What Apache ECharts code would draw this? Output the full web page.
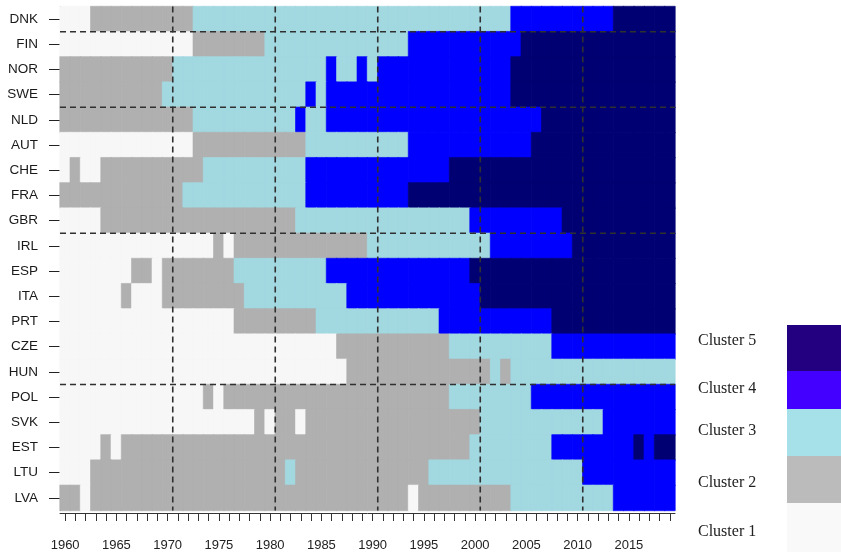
<!DOCTYPE html>
<html><head><meta charset="utf-8">
<script src="https://cdn.jsdelivr.net/npm/echarts@6/dist/echarts.min.js"></script>
<style>html,body{margin:0;padding:0;background:#fff}#c{width:841px;height:552px}</style>
</head><body><div id="c"></div>
<script>
// ---- categories ----
const years = [1960,1961,1962,1963,1964,1965,1966,1967,1968,1969,
  1970,1971,1972,1973,1974,1975,1976,1977,1978,1979,
  1980,1981,1982,1983,1984,1985,1986,1987,1988,1989,
  1990,1991,1992,1993,1994,1995,1996,1997,1998,1999,
  2000,2001,2002,2003,2004,2005,2006,2007,2008,2009,
  2010,2011,2012,2013,2014,2015,2016,2017,2018,2019];
const countries = ['DNK','FIN','NOR','SWE','NLD','AUT','CHE','FRA','GBR','IRL',
  'ESP','ITA','PRT','CZE','HUN','POL','SVK','EST','LTU','LVA'];
const yearTickLabels = [1960,1965,1970,1975,1980,1985,1990,1995,2000,2005,2010,2015];

// ---- cluster membership per country, 1960..2019 ----
const DNK = [1,1,1,2,2,2,2,2,2,2, 2,2,2,3,3,3,3,3,3,3, 3,3,3,3,3,3,3,3,3,3, 3,3,3,3,3,3,3,3,3,3, 3,3,3,3,4,4,4,4,4,4, 4,4,4,4,5,5,5,5,5,5];
const FIN = [1,1,1,1,1,1,1,1,1,1, 1,1,1,2,2,2,2,2,2,2, 3,3,3,3,3,3,3,3,3,3, 3,3,3,3,4,4,4,4,4,4, 4,4,4,4,4,5,5,5,5,5, 5,5,5,5,5,5,5,5,5,5];
const NOR = [2,2,2,2,2,2,2,2,2,2, 2,3,3,3,3,3,3,3,3,3, 3,3,3,3,3,3,4,3,3,4, 3,4,4,4,4,4,4,4,4,4, 4,4,4,4,5,5,5,5,5,5, 5,5,5,5,5,5,5,5,5,5];
const SWE = [2,2,2,2,2,2,2,2,2,2, 3,3,3,3,3,3,3,3,3,3, 3,3,3,3,4,3,4,4,4,4, 4,4,4,4,4,4,4,4,4,4, 4,4,4,4,5,5,5,5,5,5, 5,5,5,5,5,5,5,5,5,5];
const NLD = [2,2,2,2,2,2,2,2,2,2, 2,2,2,3,3,3,3,3,3,3, 3,3,3,4,3,3,4,4,4,4, 4,4,4,4,4,4,4,4,4,4, 4,4,4,4,4,4,4,5,5,5, 5,5,5,5,5,5,5,5,5,5];
const AUT = [1,1,1,1,1,1,1,1,1,1, 1,1,1,2,2,2,2,2,2,2, 2,2,2,2,3,3,3,3,3,3, 3,3,3,3,4,4,4,4,4,4, 4,4,4,4,4,4,5,5,5,5, 5,5,5,5,5,5,5,5,5,5];
const CHE = [1,2,1,1,2,2,2,2,2,2, 2,2,2,2,3,3,3,3,3,3, 3,3,3,3,4,4,4,4,4,4, 4,4,4,4,4,4,4,4,5,5, 5,5,5,5,5,5,5,5,5,5, 5,5,5,5,5,5,5,5,5,5];
const FRA = [2,2,2,2,2,2,2,2,2,2, 2,2,3,3,3,3,3,3,3,3, 3,3,3,3,4,4,4,4,4,4, 4,4,4,4,5,5,5,5,5,5, 5,5,5,5,5,5,5,5,5,5, 5,5,5,5,5,5,5,5,5,5];
const GBR = [1,1,1,1,2,2,2,2,2,2, 2,2,2,2,2,2,2,2,2,2, 2,2,2,3,3,3,3,3,3,3, 3,3,3,3,3,3,3,3,3,3, 4,4,4,4,4,4,4,4,4,5, 5,5,5,5,5,5,5,5,5,5];
const IRL = [1,1,1,1,1,1,1,1,1,1, 1,1,1,1,1,2,1,2,2,2, 2,2,2,2,2,2,2,2,2,2, 3,3,3,3,3,3,3,3,3,3, 3,3,4,4,4,4,4,4,4,4, 5,5,5,5,5,5,5,5,5,5];
const ESP = [1,1,1,1,1,1,1,2,2,1, 2,2,2,2,2,2,2,3,3,3, 3,3,3,3,3,3,4,4,4,4, 4,4,4,4,4,4,4,4,4,4, 5,5,5,5,5,5,5,5,5,5, 5,5,5,5,5,5,5,5,5,5];
const ITA = [1,1,1,1,1,1,2,1,1,1, 2,2,2,2,2,2,2,2,3,3, 3,3,3,3,3,3,3,3,4,4, 4,4,4,4,4,4,4,4,4,4, 4,5,5,5,5,5,5,5,5,5, 5,5,5,5,5,5,5,5,5,5];
const PRT = [1,1,1,1,1,1,1,1,1,1, 1,1,1,1,1,1,1,2,2,2, 2,2,2,2,2,3,3,3,3,3, 3,3,3,3,3,3,3,4,4,4, 4,4,4,4,4,4,4,4,5,5, 5,5,5,5,5,5,5,5,5,5];
const CZE = [1,1,1,1,1,1,1,1,1,1, 1,1,1,1,1,1,1,1,1,1, 1,1,1,1,1,1,1,2,2,2, 2,2,2,2,2,2,2,2,3,3, 3,3,3,3,3,3,3,3,4,4, 4,4,4,4,4,4,4,4,4,4];
const HUN = [1,1,1,1,1,1,1,1,1,1, 1,1,1,1,1,1,1,1,1,1, 1,1,1,1,1,1,1,1,2,2, 2,2,2,2,2,2,2,2,2,2, 2,2,3,2,3,3,3,3,3,3, 3,3,3,3,3,3,3,3,3,3];
const POL = [1,1,1,1,1,1,1,1,1,1, 1,1,1,1,2,1,2,2,2,2, 2,2,2,2,2,2,2,2,2,2, 2,2,2,2,2,2,2,2,3,3, 3,3,3,3,3,3,4,4,4,4, 4,4,4,4,4,4,4,4,4,4];
const SVK = [1,1,1,1,1,1,1,1,1,1, 1,1,1,1,1,1,1,1,1,2, 1,2,2,1,2,2,2,2,2,2, 2,2,2,2,2,2,2,2,2,2, 2,3,3,3,3,3,3,3,3,3, 3,3,3,4,4,4,4,4,4,4];
const EST = [1,1,1,1,2,1,2,2,2,2, 2,2,2,2,2,2,2,2,2,2, 2,2,2,2,2,2,2,2,2,2, 2,2,2,2,2,2,2,2,2,2, 3,3,3,3,3,3,3,3,4,4, 4,4,4,4,4,4,5,4,5,5];
const LTU = [1,1,1,2,2,2,2,2,2,2, 2,2,2,2,2,2,2,2,2,2, 2,2,3,2,2,2,2,2,2,2, 2,2,2,2,2,2,3,3,3,3, 3,3,3,3,3,3,3,3,3,3, 3,4,4,4,4,4,4,4,4,4];
const LVA = [2,2,1,2,2,2,2,2,2,2, 2,2,2,2,2,2,2,2,2,2, 2,2,2,2,2,2,2,2,2,2, 2,2,2,2,1,2,2,2,2,2, 2,2,2,2,3,3,3,3,3,3, 3,3,3,3,4,4,4,4,4,4];

// dashed separators: after these years, below these countries
const decadeBreaks = [1970,1980,1990,2000,2010];
const groupBreaks = ['DNK','SWE','GBR','HUN'];

// legend
const legendLabels = ['Cluster 5','Cluster 4','Cluster 3','Cluster 2','Cluster 1'];

// ---- styles ----
const cellColors = {1:'#f7f7f7',2:'#b0b0b0',3:'#a2d8e0',4:'#0000ff',5:'#000072'};
const legendColors = ['#22007f','#4400ff','#a6e1e9','#bbbbbb','#f9f9f9'];
const legendBoxY = [325,371,409,456,503,552];
const legendTextY = [341,389,431,483,532];

const rows = {DNK,FIN,NOR,SWE,NLD,AUT,CHE,FRA,GBR,IRL,ESP,ITA,PRT,CZE,HUN,POL,SVK,EST,LTU,LVA};
const heatData = [];
countries.forEach((c, yi) => {
  rows[c].forEach((v, xi) => {
    heatData.push({value:[xi, yi, v], itemStyle:{color:cellColors[v], borderColor:cellColors[v], borderWidth:0.6}});
  });
});

const dashStyle = {stroke:'#303030', lineWidth:1.6, lineDash:[6,4]};
const font = 'Liberation Sans';

const graphic = [];
legendLabels.forEach((t,i)=>{
  graphic.push({type:'rect', shape:{x:787, y:legendBoxY[i], width:60, height:legendBoxY[i+1]-legendBoxY[i]}, style:{fill:legendColors[i]}, silent:true});
  graphic.push({type:'text', x:698, y:legendTextY[i], style:{text:t, fontFamily:'Liberation Serif', fontSize:16, fill:'#222', verticalAlign:'middle', align:'left'}, silent:true});
});

const chart = echarts.init(document.getElementById('c'), null, {renderer:'canvas'});
chart.setOption({
  animation:false,
  backgroundColor:'#fff',
  grid:{left:60, top:6.5, width:615, height:504},
  xAxis:{type:'category', data:years, offset:2.5,
    axisLine:{show:true, lineStyle:{color:'#333', width:1}},
    axisTick:{show:true, interval:0, alignWithLabel:true, length:8, lineStyle:{color:'#333'}},
    axisLabel:{interval:(i, v)=>yearTickLabels.includes(+v), margin:26, fontFamily:font, fontSize:13, color:'#222'},
    splitLine:{show:false}},
  yAxis:{type:'category', data:countries, inverse:true,
    axisLine:{show:true, lineStyle:{color:'#555', width:1}},
    axisTick:{show:true, interval:0, alignWithLabel:true, length:11, lineStyle:{color:'#222'}},
    axisLabel:{interval:0, margin:22, fontFamily:font, fontSize:13.5, color:'#1a1a1a'},
    splitLine:{show:false}},
  graphic: graphic,
  series:[
    {type:'heatmap', data:heatData, silent:true},
    {type:'custom', z:10, silent:true,
      data: decadeBreaks.map(y=>[years.indexOf(y), 0]),
      renderItem(params, api){
        const cs = params.coordSys;
        const p = api.coord([api.value(0), 0]);
        const bw = api.size([1,0])[0];
        const x = p[0] + bw/2;
        return {type:'line', shape:{x1:x, y1:cs.y, x2:x, y2:cs.y+cs.height}, style:dashStyle};
      }},
    {type:'custom', z:10, silent:true,
      data: groupBreaks.map(c=>[0, countries.indexOf(c)]),
      renderItem(params, api){
        const cs = params.coordSys;
        const p = api.coord([0, api.value(1)]);
        const bh = api.size([0,1])[1];
        const y = p[1] + bh/2;
        return {type:'line', shape:{x1:cs.x, y1:y, x2:cs.x+cs.width, y2:y}, style:dashStyle};
      }}
  ]
});
</script></body></html>
